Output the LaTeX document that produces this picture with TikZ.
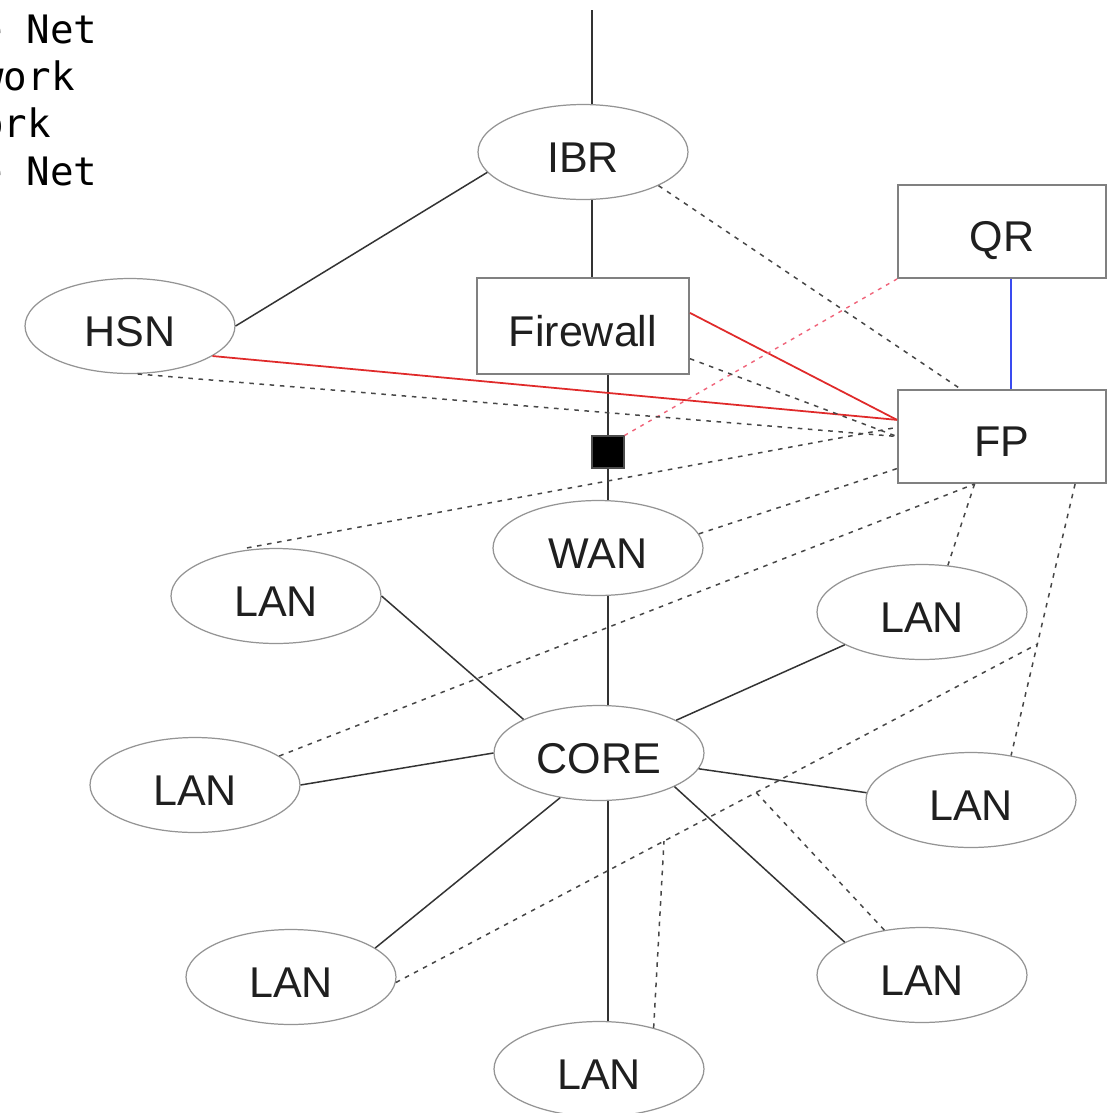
\documentclass[tikz,border=0pt]{standalone}
\usepackage{fontspec}
\setmainfont{Liberation Sans}
\newfontfamily\legendmono{DejaVu Sans Mono}
\usetikzlibrary{shapes.geometric,calc}

\definecolor{linkred}{HTML}{E02A2A}
\definecolor{linkpink}{HTML}{F0647A}
\definecolor{linkblue}{HTML}{3A4BF0}
\newcommand\lblfont{\fontsize{24.5}{28}\selectfont}
\newcommand\monofnt{\legendmono\fontsize{22.3}{26}\selectfont}

\tikzset{
  labeltext/.style={font=\lblfont, text=black!88, text height=23.2pt, text depth=0pt},
  bub/.style={ellipse, draw=black!42, line width=0.7pt, inner sep=0pt,
    minimum width=4.2cm, minimum height=1.9cm, labeltext},
  boxnode/.style={rectangle, draw=black!50, line width=1.1pt, inner sep=0pt, labeltext},
  wire/.style={draw=black!80, line width=0.85pt},
  dashwire/.style={draw=black!72, line width=0.85pt, dash pattern=on 2.6pt off 3.2pt},
  redwire/.style={draw=linkred, line width=1pt},
  pinkwire/.style={draw=linkpink, line width=0.8pt, dash pattern=on 2.2pt off 3pt},
  bluewire/.style={draw=linkblue, line width=0.9pt},
  legend/.style={anchor=base west, inner sep=0pt, font=\monofnt, text=black}
}

\begin{document}
\begin{tikzpicture}[x=0.02cm, y=-0.02cm]
  \useasboundingbox[fill=white] (0,0) rectangle (1107,1113);

  % legend lines at the upper left
  \node[legend] (m1) at (-21,43)  {e Net};
  \node[legend] (m2) at (-20,90)  {work};
  \node[legend] (m3) at (-20,137) {ork};
  \node[legend] (m4) at (-21,185) {e Net};

  % routers, firewall and probes
  \node[bub] (IBR) at (583,152) {IBR};
  \node[bub] (HSN) at (130,326) {HSN};
  \node[boxnode, minimum width=4.24cm, minimum height=1.92cm] (FW) at (583,326) {Firewall};
  \node[boxnode, minimum width=4.16cm, minimum height=1.86cm] (QR) at (1002,231.5) {QR};
  \node[boxnode, minimum width=4.16cm, minimum height=1.86cm] (FP) at (1002,436.5) {FP};
  \node[fill=black, draw=black!70, line width=0.6pt, minimum size=0.64cm, inner sep=0pt] (sq) at (608,452) {};

  % backbone
  \node[bub] (WAN)  at (598,548) {WAN};
  \node[bub] (CORE) at (599,753) {CORE};

  % local networks
  \node[bub] (LAN1) at (276,596)  {LAN};
  \node[bub] (LAN2) at (195,785)  {LAN};
  \node[bub] (LAN3) at (291,977)  {LAN};
  \node[bub] (LAN4) at (599,1069) {LAN};
  \node[bub] (LAN5) at (922,975)  {LAN};
  \node[bub] (LAN6) at (971,800)  {LAN};
  \node[bub] (LAN7) at (922,612)  {LAN};

  % uplink and main vertical chain
  \coordinate (uplink) at (592,10);
  \draw[wire] (uplink) -- (uplink |- IBR.north);
  \draw[wire] (IBR.south -| uplink) -- (FW.north -| uplink);
  \draw[wire] (FW.south -| sq) -- (sq.north);
  \draw[wire] (sq.south) -- (WAN.north -| sq);
  \draw[wire] (WAN.south -| sq) -- (CORE.north -| sq);
  \draw[wire] (CORE.south -| sq) -- (LAN4.north -| sq);

  % other solid links
  \draw[wire] (IBR.192.5) -- (HSN.east);
  \draw[wire] (CORE.156) -- (LAN1.east);
  \draw[wire] (CORE.west) -- (LAN2.east);
  \draw[wire] (CORE.229) -- (LAN3.19);
  \draw[wire] (CORE.336) -- (LAN5.157);
  \draw[wire] (CORE.351) -- (LAN6.176);
  \draw[wire] (CORE.23) -- (LAN7.203);

  % monitoring links to the probe
  \draw[redwire] (HSN.340.7) -- (FP.171);
  \draw[redwire] (FW.7.5) -- (FP.171);
  \draw[pinkwire] (sq.north east) -- (QR.south west);
  \draw[bluewire] ($(QR.south)+(9,0)$) -- ($(FP.north)+(9,0)$);

  % dashed measurement paths
  \draw[dashwire] (IBR.336.8) -- (FP.131);
  \draw[dashwire] (HSN.279.5) -- (FP.west);
  \draw[dashwire] (FW.343.2) -- (FP.west);
  \coordinate (l1top) at ($(LAN1.north)+(-29,0)$);
  \draw[dashwire] (l1top) -- (FP.175);
  \draw[dashwire] (WAN.8) -- (FP.197);
  \draw[dashwire] (LAN2.19) -- (FP.240);
  \draw[dashwire] (FP.240) -- (LAN7.61);
  \coordinate (j1) at ($(FP.327.5)!0.59!(LAN6.48)$);
  \draw[dashwire] (FP.327.5) -- (j1) -- (LAN6.48);
  \coordinate (j2) at ($(LAN3.357)!0.418!(j1)$);
  \coordinate (j3) at ($(LAN3.357)!0.5616!(j1)$);
  \draw[dashwire] (LAN3.357) -- (j2) -- (j3) -- (j1);
  \draw[dashwire] (LAN4.37) -- (j2);
  \draw[dashwire] (j3) -- (LAN5.130);
\end{tikzpicture}
\end{document}
